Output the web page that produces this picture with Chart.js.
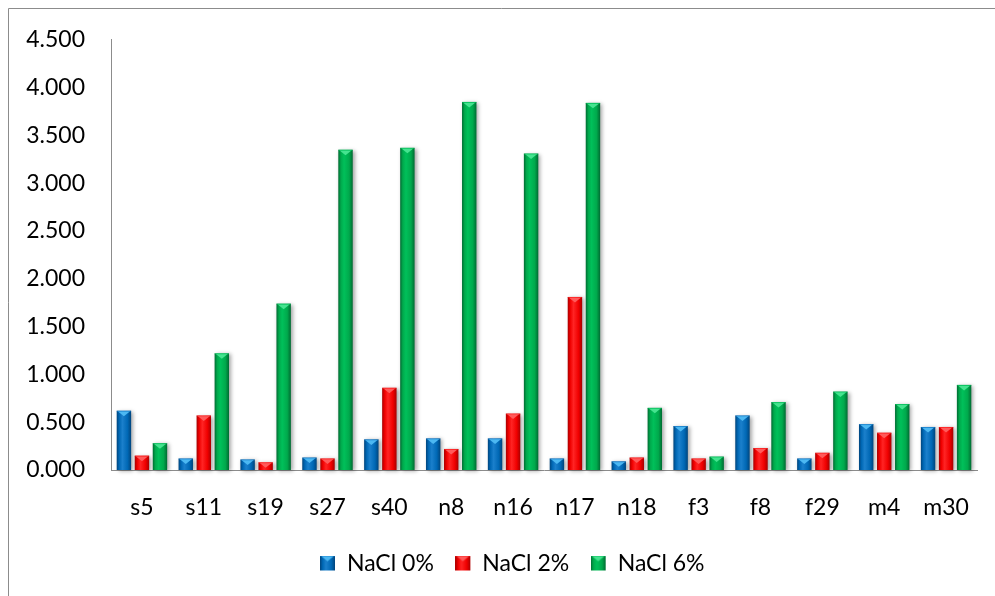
<!DOCTYPE html>
<html>
<head>
<meta charset="utf-8">
<script src="https://cdn.jsdelivr.net/npm/chart.js@4/dist/chart.umd.min.js"></script>
<style>
  html, body { margin: 0; padding: 0; background: #fff; }
  #wrap { width: 995px; height: 596px; }
</style>
</head>
<body>
<div id="wrap"><canvas id="myChart" width="995" height="596"></canvas></div>
<script>
// data
const categories = ['s5', 's11', 's19', 's27', 's40', 'n8', 'n16', 'n17', 'n18', 'f3', 'f8', 'f29', 'm4', 'm30'];
const nacl0 = [0.62, 0.12, 0.11, 0.13, 0.32, 0.33, 0.33, 0.12, 0.09, 0.46, 0.57, 0.12, 0.48, 0.45];
const nacl2 = [0.15, 0.57, 0.08, 0.12, 0.86, 0.22, 0.59, 1.81, 0.13, 0.12, 0.23, 0.18, 0.39, 0.45];
const nacl6 = [0.28, 1.22, 1.74, 3.35, 3.37, 3.85, 3.31, 3.84, 0.65, 0.14, 0.71, 0.82, 0.69, 0.89];
const seriesNames = ['NaCl 0%', 'NaCl 2%', 'NaCl 6%'];
const yTicks = [0, 0.5, 1, 1.5, 2, 2.5, 3, 3.5, 4, 4.5];

// colours for the "bevel" bars: dark edge, base, light, triangle
const palette = [
  { dark: '#00457d', base: '#0068b5', light: '#1b80cc', tip: '#4cb8f2' },
  { dark: '#a80000', base: '#f00000', light: '#ff2424', tip: '#ff5a5a' },
  { dark: '#006b32', base: '#00a94c', light: '#00c05a', tip: '#45e38f' }
];

function fillBevel(ctx, left, top, w, h, c) {
  const g = ctx.createLinearGradient(left, 0, left + w, 0);
  g.addColorStop(0, c.dark);
  g.addColorStop(0.18, c.base);
  g.addColorStop(0.4, c.light);
  g.addColorStop(0.75, c.base);
  g.addColorStop(1, c.dark);
  ctx.fillStyle = g;
  ctx.fillRect(left, top, w, h);
  // small triangle at the top
  const th = Math.min(w * 0.38, h);
  ctx.shadowColor = 'transparent';
  ctx.fillStyle = c.tip;
  ctx.beginPath();
  ctx.moveTo(left + 1, top + 0.5);
  ctx.lineTo(left + w - 1, top + 0.5);
  ctx.lineTo(left + w / 2, top + th);
  ctx.closePath();
  ctx.fill();
  ctx.fillStyle = c.light;
  ctx.globalAlpha = 0.6;
  ctx.fillRect(left, top, w, 1);
  ctx.globalAlpha = 1;
}

// legend icons
function legendIcon(c) {
  const cv = document.createElement('canvas');
  cv.width = 16; cv.height = 16;
  const x = cv.getContext('2d');
  fillBevel(x, 0, 0, 15, 15, c);
  return cv;
}

const bevelBars = {
  id: 'bevelBars',
  beforeDatasetsDraw(chart) {
    const ctx = chart.ctx;
    chart.data.datasets.forEach((ds, i) => {
      const meta = chart.getDatasetMeta(i);
      meta.data.forEach(el => {
        const p = el.getProps(['x', 'y', 'base', 'width'], true);
        const left = p.x - p.width / 2;
        const h = p.base - p.y;
        ctx.save();
        ctx.shadowColor = 'rgba(0,0,0,0.35)';
        ctx.shadowBlur = 4;
        ctx.shadowOffsetX = 2;
        ctx.shadowOffsetY = 1;
        fillBevel(ctx, left, p.y, p.width, h, palette[i]);
        ctx.restore();
      });
    });
    return false;
  }
};

// outer frame + nudge the legend to the right like in the original
const frame = {
  id: 'frame',
  afterLayout(chart) {
    if (chart.legend) {
      chart.legend.left += 24;
      chart.legend.right += 24;
    }
  },
  beforeDraw(chart) {
    const ctx = chart.ctx;
    ctx.save();
    ctx.strokeStyle = '#8c8c8c';
    ctx.lineWidth = 1;
    ctx.beginPath();
    ctx.moveTo(8.5, 596);
    ctx.lineTo(8.5, 8.5);
    ctx.lineTo(995, 8.5);
    ctx.stroke();
    ctx.restore();
  }
};

const font = { family: 'Lato', size: 23 };

new Chart(document.getElementById('myChart'), {
  type: 'bar',
  data: {
    labels: categories,
    datasets: [nacl0, nacl2, nacl6].map((d, i) => ({
      label: seriesNames[i],
      data: d,
      backgroundColor: palette[i].base,
      pointStyle: legendIcon(palette[i]),
      categoryPercentage: 0.874,
      barPercentage: 0.8
    }))
  },
  options: {
    responsive: false,
    animation: false,
    layout: { padding: { left: 0, right: 18, top: 39, bottom: 11 } },
    plugins: {
      tooltip: { enabled: false },
      legend: {
        position: 'bottom',
        labels: {
          usePointStyle: true,
          boxWidth: 15,
          boxHeight: 15,
          padding: 22,
          color: '#000',
          font: font
        }
      }
    },
    scales: {
      x: {
        grid: { display: false, drawTicks: false },
        border: { display: true, color: '#8c8c8c', width: 1 },
        ticks: { color: '#000', font: font, padding: 24, maxRotation: 0 },
        afterFit(s) { s.height = 60; }
      },
      y: {
        min: 0,
        max: 4.5,
        grid: { display: false, drawTicks: false },
        border: { display: true, color: '#8c8c8c', width: 1 },
        afterBuildTicks(s) { s.ticks = yTicks.map(v => ({ value: v })); },
        ticks: {
          color: '#000',
          font: font,
          padding: 26,
          callback: v => Number(v).toFixed(3)
        },
        afterFit(s) { s.width = 111; }
      }
    }
  },
  plugins: [frame, bevelBars]
});
</script>
</body>
</html>
